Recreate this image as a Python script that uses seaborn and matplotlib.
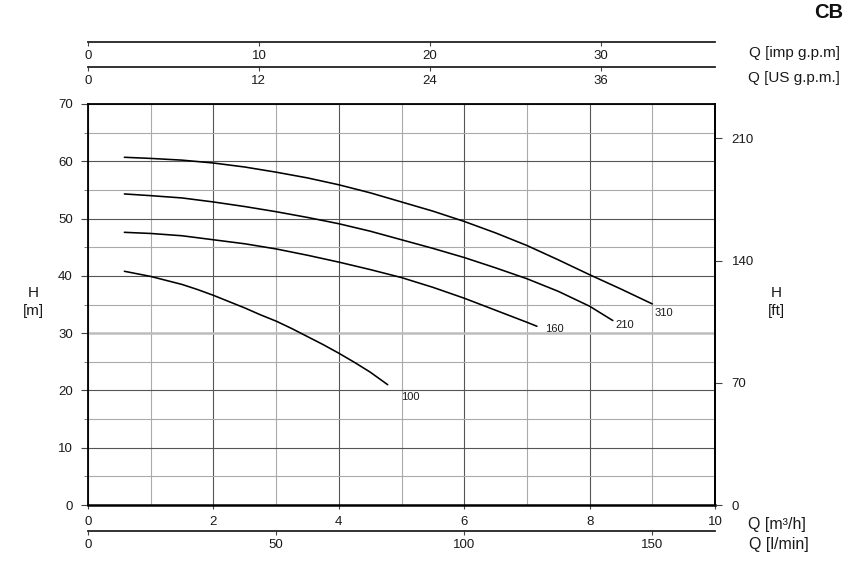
import matplotlib
matplotlib.use("Agg")
import matplotlib.pyplot as plt
import pandas as pd
import seaborn as sns

# ---------------- data ----------------
curve_names = ["100", "160", "210", "310"]

q_100 = [0.58, 1.0, 1.25, 1.5, 1.75, 2.0, 2.25, 2.5, 2.75, 3.0, 3.25, 3.5, 3.75, 4.0, 4.25, 4.5, 4.78]
h_100 = [40.8, 39.9, 39.2, 38.5, 37.6, 36.6, 35.5, 34.4, 33.2, 32.1, 30.8, 29.4, 28.0, 26.5, 24.9, 23.2, 21.0]

q_160 = [0.58, 1.0, 1.5, 2.0, 2.5, 3.0, 3.5, 4.0, 4.5, 5.0, 5.5, 6.0, 6.5, 7.0, 7.16]
h_160 = [47.6, 47.4, 47.0, 46.3, 45.6, 44.7, 43.6, 42.4, 41.1, 39.7, 38.0, 36.1, 34.0, 31.9, 31.2]

q_210 = [0.58, 1.0, 1.5, 2.0, 2.5, 3.0, 3.5, 4.0, 4.5, 5.0, 5.5, 6.0, 6.5, 7.0, 7.5, 8.0, 8.37]
h_210 = [54.3, 54.0, 53.6, 52.9, 52.1, 51.2, 50.2, 49.1, 47.8, 46.3, 44.8, 43.2, 41.4, 39.5, 37.3, 34.7, 32.2]

q_310 = [0.58, 1.0, 1.5, 2.0, 2.5, 3.0, 3.5, 4.0, 4.5, 5.0, 5.5, 6.0, 6.5, 7.0, 7.5, 8.0, 8.5, 9.0]
h_310 = [60.7, 60.5, 60.2, 59.7, 59.0, 58.1, 57.1, 55.9, 54.5, 52.9, 51.3, 49.5, 47.5, 45.3, 42.8, 40.2, 37.7, 35.1]

# curve label anchor points (data units)
label_q = [5.00, 7.29, 8.41, 9.03]
label_h = [18.8, 30.8, 31.4, 33.5]

m_ticks = [0, 2, 4, 6, 8, 10]
h_ticks = [0, 10, 20, 30, 40, 50, 60, 70]
ft_ticks = [0, 70, 140, 210]
lmin_ticks = [0, 50, 100, 150]
imp_ticks = [0, 10, 20, 30]
us_ticks = [0, 12, 24, 36]

# unit conversions from m3/h and m
M3H_TO_LMIN = 16.6667
M3H_TO_IMP = 3.66615
M3H_TO_US = 4.40287
M_TO_FT = 3.28084

# ---------------- style ----------------
sns.set_style("ticks")
plt.rcParams["font.family"] = ["Liberation Sans", "DejaVu Sans"]
TXT = "#1a1a1a"

W_PX, H_PX = 859, 564
fig = plt.figure(figsize=(W_PX / 100, H_PX / 100), dpi=100)

L = 88 / W_PX
R = 715 / W_PX
B = (H_PX - 505) / H_PX
T = (H_PX - 104) / H_PX
ax = fig.add_axes([L, B, R - L, T - B])

frames = []
for name, q, h in zip(curve_names, [q_100, q_160, q_210, q_310], [h_100, h_160, h_210, h_310]):
    frames.append(pd.DataFrame({"Q": q, "H": h, "curve": name}))
df = pd.concat(frames, ignore_index=True)

sns.lineplot(data=df, x="Q", y="H", hue="curve", palette=["black"] * 4,
             legend=False, ax=ax, linewidth=1.15, sort=False, estimator=None)

for name, xq, yh in zip(curve_names, label_q, label_h):
    ax.text(xq, yh, name, fontsize=8, ha="left", va="center", color=TXT)

ax.set_xlim(0, 10)
ax.set_ylim(0, 70)
ax.set_xlabel("")
ax.set_ylabel("")

ax.set_xticks(m_ticks)
ax.set_xticks([1, 3, 5, 7, 9], minor=True)
ax.set_yticks(h_ticks)
ax.set_yticks([5, 15, 25, 35, 45, 55, 65], minor=True)

ax.grid(True, which="major", axis="x", color="#555555", lw=0.8)
ax.grid(True, which="minor", axis="x", color="#aaaaaa", lw=0.8)
ax.grid(True, which="major", axis="y", color="#555555", lw=0.8)
ax.grid(True, which="minor", axis="y", color="#aaaaaa", lw=0.8)
for tk in ax.yaxis.get_major_ticks():
    if tk.get_loc() in (30, 60):
        tk.gridline.set_color("#bdbdbd")
        tk.gridline.set_linewidth(1.8)
ax.set_axisbelow(True)

ax.tick_params(axis="x", which="major", direction="out", length=3, width=0.8,
               pad=5, labelsize=9.5, colors="#444444", labelcolor=TXT)
ax.tick_params(axis="x", which="minor", length=0)
ax.tick_params(axis="y", which="major", direction="out", length=5, width=0.8,
               pad=6, labelsize=9.5, colors="#444444", labelcolor=TXT)
ax.tick_params(axis="y", which="minor", direction="out", length=3, width=0.6,
               colors="#666666")

for side in ["left", "top", "right"]:
    ax.spines[side].set_visible(True)
    ax.spines[side].set_color("black")
    ax.spines[side].set_linewidth(1.3)
ax.spines["bottom"].set_color("black")
ax.spines["bottom"].set_linewidth(1.8)

# right axis in feet
axr = ax.twinx()
axr.set_ylim(0, 70 * M_TO_FT)
axr.set_yticks(ft_ticks)
axr.tick_params(axis="y", direction="out", length=5, width=0.8, pad=7,
                labelsize=9.5, colors="#444444", labelcolor=TXT)
axr.grid(False)
for side in ["left", "top", "bottom"]:
    axr.spines[side].set_visible(False)
axr.spines["right"].set_color("black")
axr.spines["right"].set_linewidth(1.3)


def flat_axis(y_px, xmax, ticks):
    a = fig.add_axes([L, (H_PX - y_px) / H_PX, R - L, 1e-6])
    a.set_xlim(0, xmax)
    a.set_xticks(ticks)
    a.yaxis.set_visible(False)
    a.patch.set_visible(False)
    for side in ["left", "top", "right"]:
        a.spines[side].set_visible(False)
    a.spines["bottom"].set_color("#222222")
    a.spines["bottom"].set_linewidth(1.3)
    a.tick_params(axis="x", direction="out", length=3, width=0.8, pad=3,
                  labelsize=9.5, colors="#444444", labelcolor=TXT)
    a.grid(False)
    return a


flat_axis(531, 10 * M3H_TO_LMIN, lmin_ticks)
flat_axis(42, 10 * M3H_TO_IMP, imp_ticks)
flat_axis(67, 10 * M3H_TO_US, us_ticks)


def fx(px):
    return px / W_PX


def fy(py):
    return (H_PX - py) / H_PX


fig.text(fx(749), fy(53), "Q [imp g.p.m]", fontsize=11, ha="left", va="center", color=TXT)
fig.text(fx(748), fy(78), "Q [US g.p.m.]", fontsize=11, ha="left", va="center", color=TXT)
fig.text(fx(748), fy(524), "Q [m³/h]", fontsize=11.5, ha="left", va="center", color=TXT)
fig.text(fx(749), fy(545), "Q [l/min]", fontsize=11.5, ha="left", va="center", color=TXT)
fig.text(fx(33), fy(302), "H\n[m]", fontsize=11, ha="center", va="center", color=TXT,
         linespacing=1.35)
fig.text(fx(776), fy(302), "H\n[ft]", fontsize=11, ha="center", va="center", color=TXT,
         linespacing=1.35)
fig.text(fx(843), fy(13), "CB", fontsize=14.5, fontweight="bold", ha="right", va="center",
         color="#111111")

fig.savefig("out.png", dpi=100)
